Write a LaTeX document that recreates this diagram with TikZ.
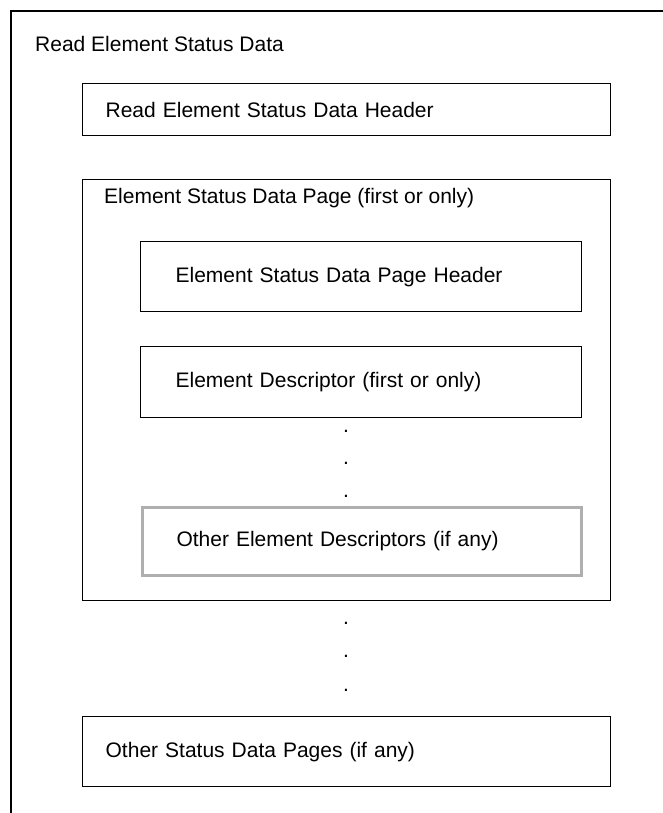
\documentclass[tikz,border=0pt]{standalone}
\usepackage{fontspec}
\setmainfont{Liberation Sans}
\usetikzlibrary{calc}
\definecolor{descgray}{RGB}{175,175,175}

\begin{document}
\begin{tikzpicture}[x=1pt,y=-1pt,font=\fontsize{21}{25}\selectfont]
\useasboundingbox (0,0) rectangle (663,813);
\coordinate (corner) at (11, 11);
\coordinate (topend) at (663, 11);
\coordinate (botend) at (11, 813);
\coordinate (hdr) at (82, 83);
\coordinate (pg) at (82, 179);
\coordinate (pghdr) at (140, 241);
\coordinate (desc) at (140, 346);
\coordinate (other) at (140.5, 505.5);
\coordinate (pages) at (82, 716);

\newcommand{\statbox}[6]{
    \node[draw,line width=1.3pt,anchor=north west,inner ysep=0pt,inner xsep=#5,
          minimum height=#4,text width=#3-2*#5,align=left] (#1) at (#2) {#6};
}

\newcommand{\dotrow}[2]{
    \node[anchor=base,inner sep=0pt] (#1) at (#2) {.};
}

\draw[black,line width=1.3pt] (botend)--(corner)--(topend);
\node[anchor=base west,inner sep=0pt] (rdtitle) at (35, 52) {Read Element Status Data};

\statbox{hdrbox}{hdr}{528pt}{52pt}{23pt}{Read Element Status Data Header}

% page (first or only)
\node[draw,line width=1.3pt,anchor=north west,inner sep=0pt,
      minimum width=528pt,minimum height=421pt] (pgbox) at (pg) {};
\node[anchor=base west,inner sep=0pt] (pgtitle) at (104, 204) {Element Status Data Page (first or only)};
\statbox{pghdrbox}{pghdr}{441pt}{70pt}{35pt}{Element Status Data Page Header}
\statbox{descbox}{desc}{441pt}{71pt}{35pt}{Element Descriptor (first or only)}
\dotrow{da}{346, 432}
\dotrow{db}{346, 464}
\dotrow{dc}{346, 497}
{\node[draw=descgray,line width=3pt,anchor=north west,inner ysep=0pt,inner xsep=34.5pt,
       minimum height=68pt,text width=370pt,align=left] (otherbox) at (other) {Other Element Descriptors (if any)};}

\dotrow{dd}{346, 624}
\dotrow{de}{346, 657}
\dotrow{df}{346, 691}
\statbox{pagesbox}{pages}{528pt}{70pt}{23pt}{Other Status Data Pages (if any)}
\end{tikzpicture}
\end{document}
